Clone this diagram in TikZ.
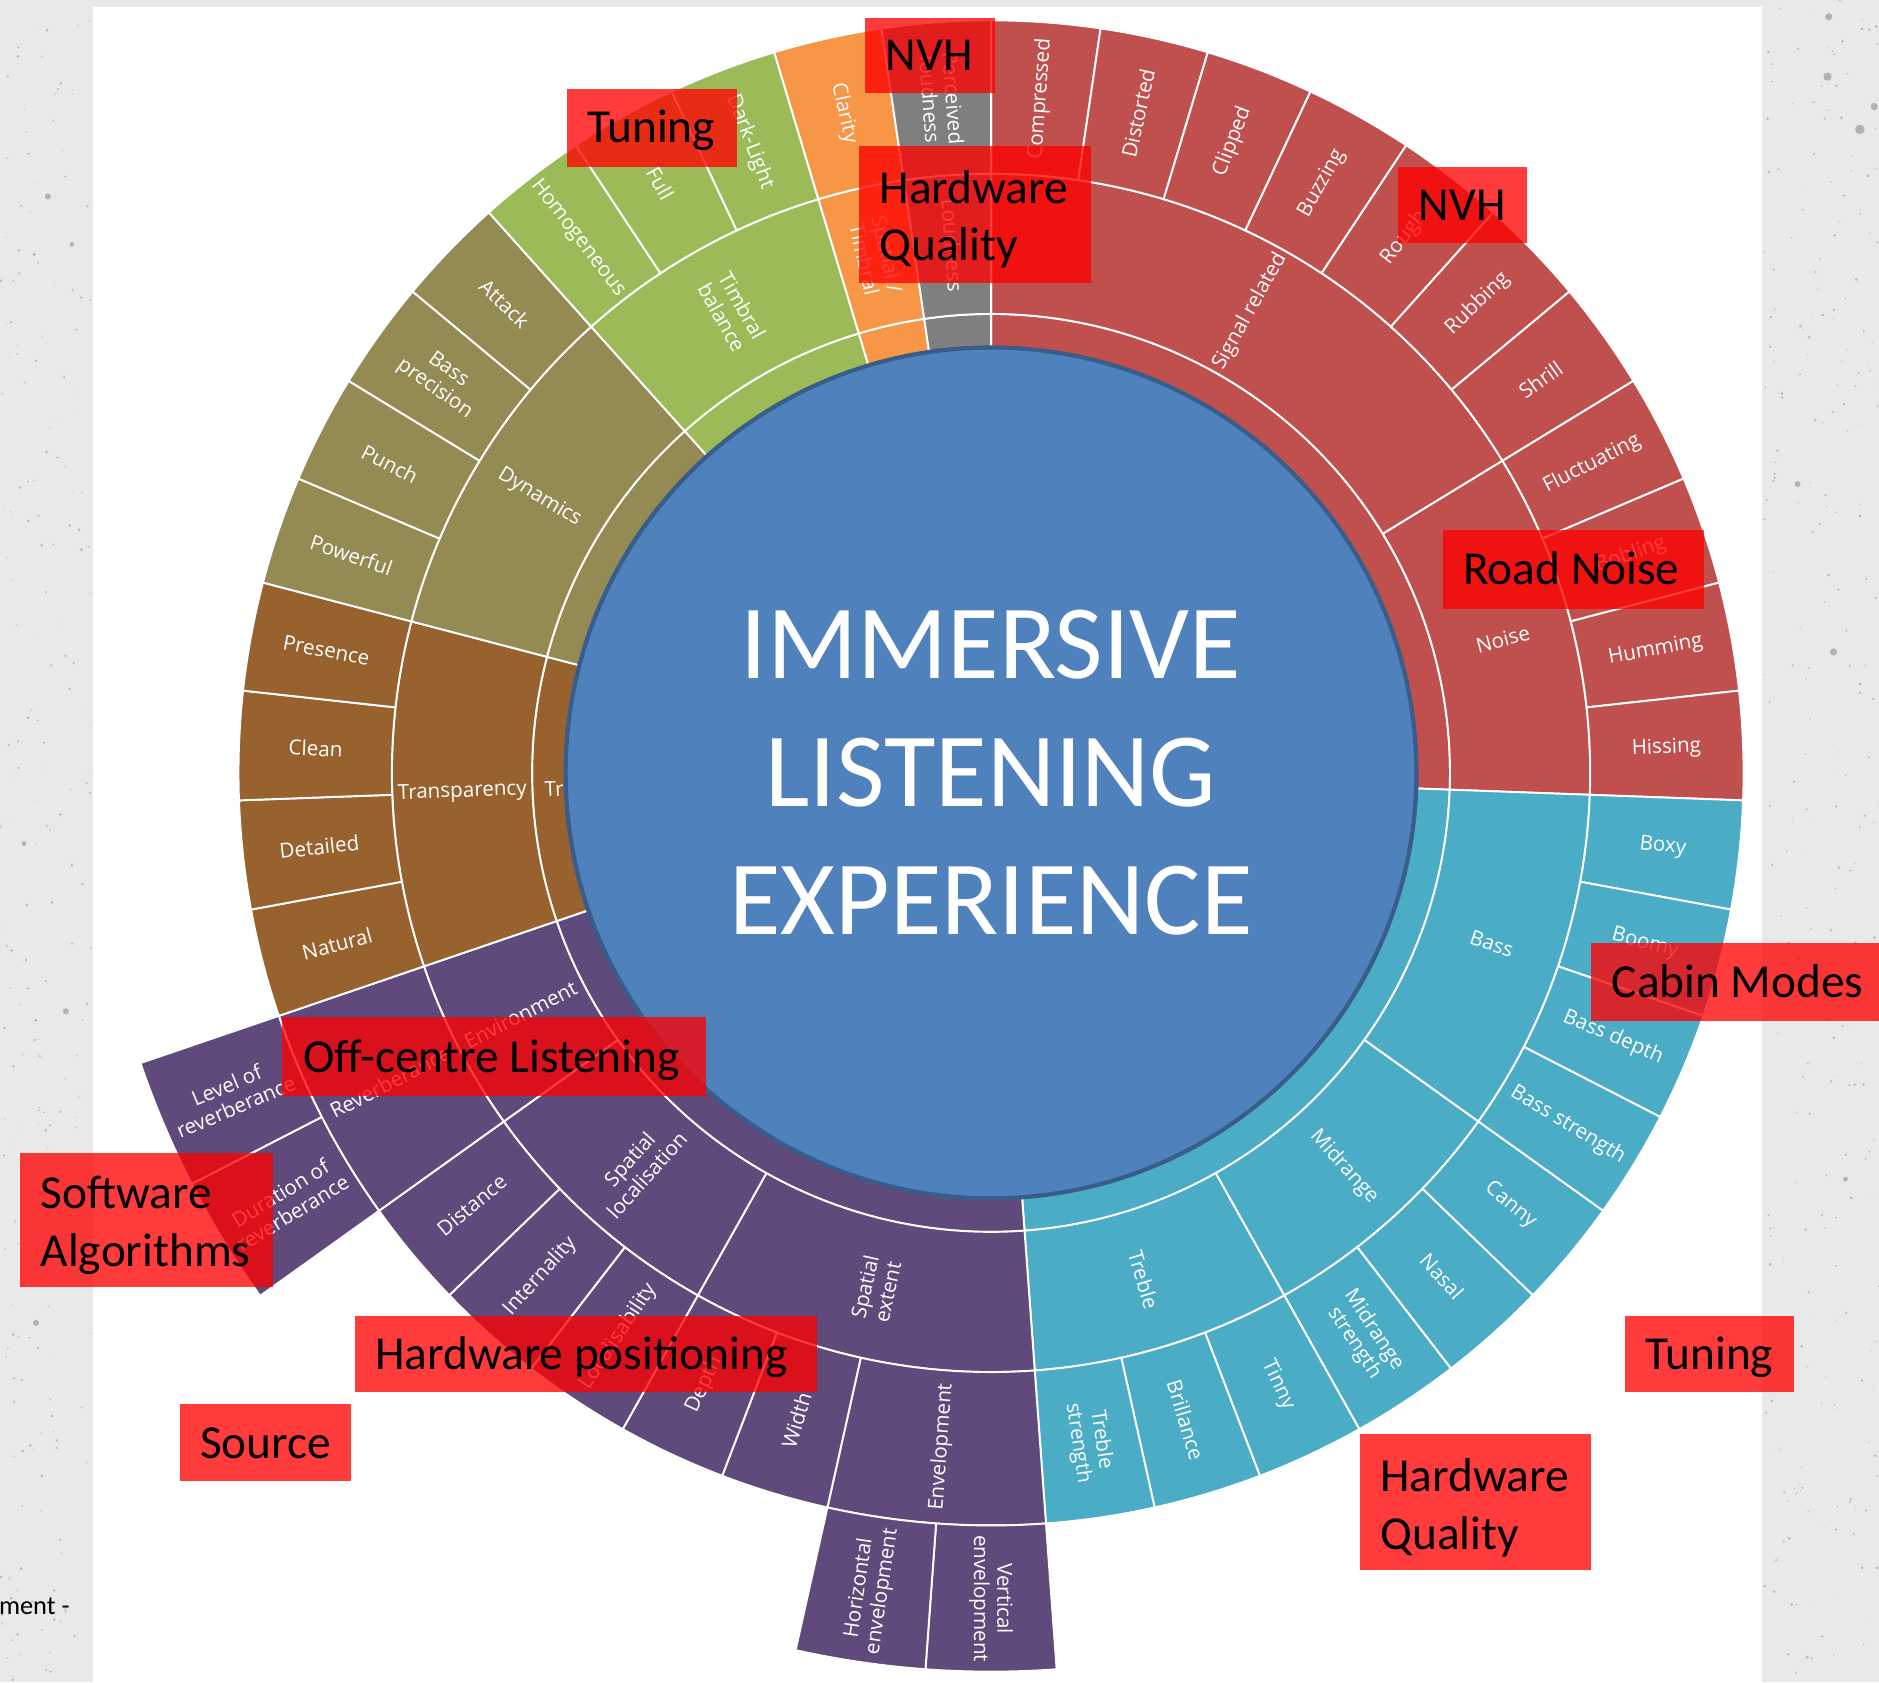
\documentclass[tikz,border=0pt]{standalone}
\usepackage{fontspec}
\setmainfont{Carlito}
\newfontfamily\labfont{Open Sans}
\usetikzlibrary{calc}

\definecolor{cRed}{HTML}{C0504D}
\definecolor{cBlue}{HTML}{4BACC6}
\definecolor{cPurple}{HTML}{604A7B}
\definecolor{cBrown}{HTML}{98622F}
\definecolor{cOlive}{HTML}{948A54}
\definecolor{cGreen}{HTML}{9BBB59}
\definecolor{cOrange}{HTML}{F79646}
\definecolor{cGrey}{HTML}{7F7F7F}
\definecolor{coreFill}{HTML}{4F81BD}
\definecolor{coreLine}{HTML}{385D8A}
\definecolor{paper}{HTML}{E9E9E9}

% one leaf of the sunburst = 360/43 degrees, leaves counted clockwise from 12 o'clock
% \seg{colour}{inner r}{outer r}{first leaf}{end leaf}
\newcommand\seg[5]{%
  \pgfmathsetmacro\segA{90-(#4)*360/43}%
  \pgfmathsetmacro\segB{90-(#5)*360/43}%
  \draw[segline,fill=#1] (\segA:#2pt) arc[start angle=\segA,end angle=\segB,radius=#2pt]
    -- (\segB:#3pt) arc[start angle=\segB,end angle=\segA,radius=#3pt] -- cycle;}
% \lab{name}{leaf position of the centre}{radius}{text}
\newcommand\lab[4]{%
  \pgfmathsetmacro\labang{90-(#2)*360/43}%
  \pgfmathsetmacro\labrot{(\labang<-90.01) ? \labang+180 : \labang}%
  \node[lab,rotate=\labrot] (#1) at (\labang:#3pt) {#4};}

\begin{document}
\begin{tikzpicture}[x=1pt,y=1pt,
  segline/.style={draw=white,line width=1.6pt,line join=round},
  lab/.style={text=white,font=\labfont\fontsize{17.2}{19.5}\selectfont,align=center,inner sep=0pt},
  tagbox/.style={fill=red,fill opacity=0.77,draw=none,inner sep=0pt},
  tagtext/.style={font=\fontsize{39.5}{48}\selectfont,text=black,inner sep=0pt,anchor=base west},
  speck/.style={fill=black!55,opacity=0.45},
  core/.style={circle,fill=coreFill,draw=coreLine,line width=3.5pt,minimum size=710pt,
    inner sep=0pt,text=white,align=center,font=\fontsize{88}{107}\selectfont}]

\useasboundingbox (0,0) rectangle (1568,1404);

% concrete backdrop and white sheet
\fill[paper] (0,0) rectangle (1568,1404);
\pgfmathsetseed{42}
\foreach \i in {1,...,220}{%
  \pgfmathsetmacro\sx{rnd*76}\pgfmathsetmacro\sy{rnd*1404}\pgfmathsetmacro\sr{0.3+0.9*rnd}%
  \fill[speck] (\sx,\sy) circle[radius=\sr pt];}
\foreach \i in {1,...,260}{%
  \pgfmathsetmacro\sx{1472+rnd*96}\pgfmathsetmacro\sy{rnd*1404}\pgfmathsetmacro\sr{0.3+0.9*rnd}%
  \fill[speck] (\sx,\sy) circle[radius=\sr pt];}
\foreach \sx/\sy/\sr in {1526/1390/3,1525/1340/3.5,1552/1296/4,1564/1315/3,40/1240/2.5,60/1200/2,1500/1000/2.5,1530/860/3,20/700/2,55/560/2.5,1540/420/2,30/300/2.5}
  {\fill[speck] (\sx,\sy) circle[radius=\sr pt];}
\fill[white] (78,0) rectangle (1470,1398);

\begin{scope}[shift={(827,759)}]
  % ring 1: top-level groups
  \seg{cRed}{340}{383}{0}{11}
  \seg{cBlue}{340}{383}{11}{21}
  \seg{cPurple}{340}{383}{21}{30}
  \seg{cBrown}{340}{383}{30}{34}
  \seg{cOlive}{340}{383}{34}{38}
  \seg{cGreen}{340}{383}{38}{41}
  \seg{cOrange}{340}{383}{41}{42}
  \seg{cGrey}{340}{383}{42}{43}
  \node[lab,rotate=2.1,anchor=west] (r1trans) at (182.1:373pt) {Tr};

  % ring 2
  \seg{cRed}{383}{500}{0}{7}
  \seg{cRed}{383}{500}{7}{11}
  \seg{cBlue}{383}{500}{11}{15}
  \seg{cBlue}{383}{500}{15}{18}
  \seg{cBlue}{383}{500}{18}{21}
  \seg{cPurple}{383}{500}{21}{25}
  \seg{cPurple}{383}{500}{25}{28}
  \seg{cPurple}{383}{500}{28}{30}
  \seg{cBrown}{383}{500}{30}{34}
  \seg{cOlive}{383}{500}{34}{38}
  \seg{cGreen}{383}{500}{38}{41}
  \seg{cOrange}{383}{500}{41}{42}
  \seg{cGrey}{383}{500}{42}{43}

  % ring 3
  \foreach \k in {0,...,10}{\seg{cRed}{500}{628}{\k}{\k+1}}
  \foreach \k in {11,...,20}{\seg{cBlue}{500}{628}{\k}{\k+1}}
  \seg{cPurple}{500}{628}{21}{23}
  \foreach \k in {23,...,27}{\seg{cPurple}{500}{628}{\k}{\k+1}}
  \seg{cPurple}{500}{628}{28}{30}
  \foreach \k in {30,...,33}{\seg{cBrown}{500}{628}{\k}{\k+1}}
  \foreach \k in {34,...,37}{\seg{cOlive}{500}{628}{\k}{\k+1}}
  \foreach \k in {38,...,40}{\seg{cGreen}{500}{628}{\k}{\k+1}}
  \seg{cOrange}{500}{628}{41}{42}
  \seg{cGrey}{500}{628}{42}{43}

  % ring 4
  \seg{cPurple}{628}{750}{21}{22}
  \seg{cPurple}{628}{750}{22}{23}
  \seg{cPurple}{628}{750}{28}{29}
  \seg{cPurple}{628}{750}{29}{30}

  % ring 2 labels
  \lab{l2sig}{3.5}{441.5}{Signal related}
  \lab{l2noise}{9}{441.5}{Noise}
  \lab{l2bass}{13}{441.5}{Bass}
  \lab{l2mid}{16.5}{441.5}{Midrange}
  \lab{l2treb}{19.5}{441.5}{Treble}
  \lab{l2ext}{23}{441.5}{Spatial\\extent}
  \lab{l2loc}{26.5}{441.5}{Spatial\\localisation}
  \lab{l2env}{29}{441.5}{Environment}
  \lab{l2trans}{32}{441.5}{Transparency}
  \lab{l2dyn}{36}{441.5}{Dynamics}
  \lab{l2timb}{39.5}{441.5}{Timbral\\balance}
  \lab{l2ts}{41.5}{441.5}{Spatial /\\Timbral}
  \lab{l2loud}{42.5}{441.5}{Loudness}

  % ring 3 labels
  \foreach \k/\t in {0/Compressed,1/Distorted,2/Clipped,3/Buzzing,4/Rough,5/Rubbing,
      6/Shrill,7/Fluctuating,8/Bobling,9/Humming,10/Hissing,11/Boxy,12/Boomy,
      13/Bass depth,14/Bass strength,15/Canny,16/Nasal,17/{Midrange\\strength},
      18/Tinny,19/Brillance,20/{Treble\\strength},23/Width,24/Depth,
      25/Localisability,26/Internality,27/Distance,30/Natural,31/Detailed,
      32/Clean,33/Presence,34/Powerful,35/Punch,36/{Bass\\precision},37/Attack,
      38/Homogeneous,39/Full,40/Dark-Light,41/Clarity,42/{Perceived\\loudness}}
    {\lab{l3-\k}{\k+0.5}{564}{\t}}
  \lab{l3env}{22}{564}{Envelopment}
  \lab{l3rev}{29}{564}{Reverberance}

  % ring 4 labels
  \lab{l4vert}{21.5}{689}{Vertical\\envelopment}
  \lab{l4hor}{22.5}{689}{Horizontal\\envelopment}
  \lab{l4dur}{28.5}{689}{Duration of\\reverberance}
  \lab{l4lev}{29.5}{689}{Level of\\reverberance}

  % hub
  \node[core] (core) at (0,0) {IMMERSIVE\\LISTENING\\EXPERIENCE};
\end{scope}

% annotation tags
\node[tagbox,minimum width=108pt,minimum height=63pt] (nvhA) at (776,1357.5) {};
\node[tagtext] (nvhAt) at ([xshift=17pt,yshift=-12.7pt]nvhA.west) {NVH};
\node[tagbox,minimum width=142pt,minimum height=65pt] (tunA) at (544,1297.5) {};
\node[tagtext] (tunAt) at ([xshift=17pt,yshift=-12.7pt]tunA.west) {Tuning};
\node[tagbox,minimum width=193pt,minimum height=114pt] (hqA) at (813.5,1225) {};
\node[tagtext] (hqA1) at ([xshift=17pt,yshift=-48pt]hqA.north west) {Hardware};
\node[tagtext] (hqA2) at ([xshift=17pt,yshift=-96pt]hqA.north west) {Quality};
\node[tagbox,minimum width=107pt,minimum height=64pt] (nvhB) at (1220.5,1233) {};
\node[tagtext] (nvhBt) at ([xshift=17pt,yshift=-12.7pt]nvhB.west) {NVH};
\node[tagbox,minimum width=218pt,minimum height=66pt] (road) at (1313,929) {};
\node[tagtext] (roadt) at ([xshift=17pt,yshift=-12.7pt]road.west) {Road Noise};
\node[tagbox,minimum width=240pt,minimum height=65pt] (cabin) at (1448,584.5) {};
\node[tagtext] (cabint) at ([xshift=17pt,yshift=-12.7pt]cabin.west) {Cabin Modes};
\node[tagbox,minimum width=354pt,minimum height=66pt] (offc) at (412,522) {};
\node[tagtext] (offct) at ([xshift=18pt,yshift=-12.7pt]offc.west) {Off-centre Listening};
\node[tagbox,minimum width=211pt,minimum height=112pt] (soft) at (122.5,386) {};
\node[tagtext] (soft1) at ([xshift=17pt,yshift=-47pt]soft.north west) {Software};
\node[tagtext] (soft2) at ([xshift=17pt,yshift=-95pt]soft.north west) {Algorithms};
\node[tagbox,minimum width=386pt,minimum height=64pt] (hwpos) at (489,274) {};
\node[tagtext] (hwpost) at ([xshift=17pt,yshift=-12.7pt]hwpos.west) {Hardware positioning};
\node[tagbox,minimum width=143pt,minimum height=64pt] (src) at (221.5,200) {};
\node[tagtext] (srct) at ([xshift=17pt,yshift=-12.7pt]src.west) {Source};
\node[tagbox,minimum width=141pt,minimum height=64pt] (tunB) at (1426.5,274) {};
\node[tagtext] (tunBt) at ([xshift=17pt,yshift=-12.7pt]tunB.west) {Tuning};
\node[tagbox,minimum width=193pt,minimum height=113pt] (hqB) at (1231.5,150.5) {};
\node[tagtext] (hqB1) at ([xshift=17pt,yshift=-48pt]hqB.north west) {Hardware};
\node[tagtext] (hqB2) at ([xshift=17pt,yshift=-96pt]hqB.north west) {Quality};

% caption fragment at the left edge
\node[font=\fontsize{22}{26}\selectfont,anchor=base west,inner sep=0pt] (cut) at (-1,57) {ment -};
\end{tikzpicture}
\end{document}
